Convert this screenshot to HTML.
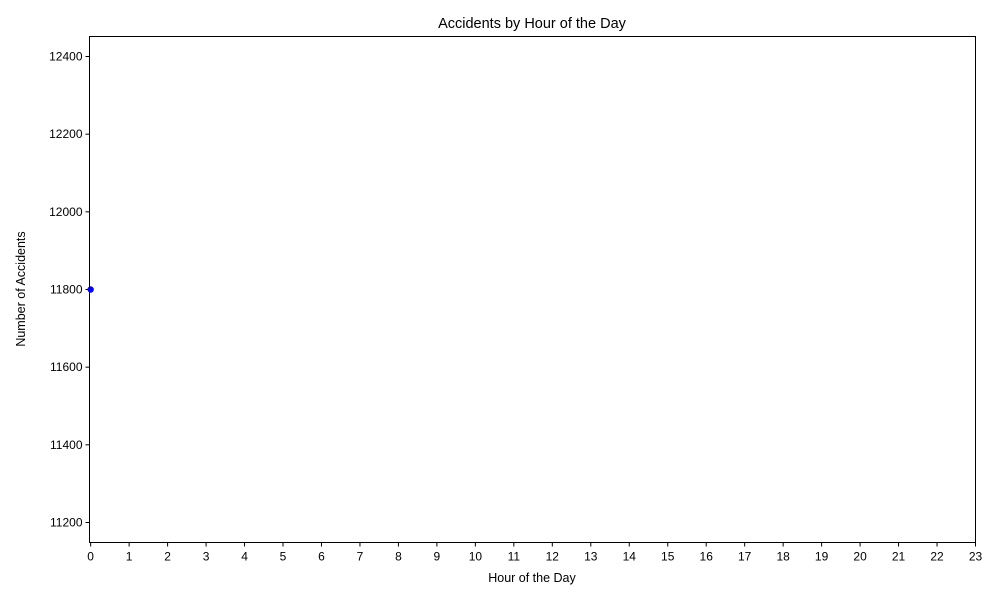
<!DOCTYPE html>
<html><head><meta charset="utf-8"><style>
body{margin:0;background:#fff;font-family:"Liberation Sans",sans-serif;}
svg text{font-family:"Liberation Sans",sans-serif;fill:#000;}
</style></head><body>
<svg width="1000" height="600" id="chart">
<text x="532" y="28" font-size="14.5" text-anchor="middle">Accidents by Hour of the Day</text>
<text x="532" y="582" font-size="12.5" text-anchor="middle">Hour of the Day</text>
<text transform="translate(25,289) rotate(-90)" font-size="12.5" text-anchor="middle">Number of Accidents</text>
<g id="xt"></g><g id="yt"></g><g id="pts"></g>
<rect x="89.5" y="36.5" width="886" height="506" fill="none" stroke="#000" stroke-width="1"/>
</svg>
<script>
const hours=[0];
const accidents=[11800];
const xTicks=[0,1,2,3,4,5,6,7,8,9,10,11,12,13,14,15,16,17,18,19,20,21,22,23];
const yTicks=[11200,11400,11600,11800,12000,12200,12400];
const L=89.5,R=975.5,T=36.5,B=542.5;
const xmin=-0.03,xmax=23,ymin=11148.5,ymax=12451.5;
const sx=v=>L+(v-xmin)/(xmax-xmin)*(R-L);
const sy=v=>B-(v-ymin)/(ymax-ymin)*(B-T);
const NS="http://www.w3.org/2000/svg";
const xt=document.getElementById('xt'),yt=document.getElementById('yt'),pts=document.getElementById('pts');
xTicks.forEach(t=>{
 const l=document.createElementNS(NS,'line');
 l.setAttribute('x1',sx(t));l.setAttribute('x2',sx(t));l.setAttribute('y1',B);l.setAttribute('y2',B+4);l.setAttribute('stroke','#000');
 
 
 xt.appendChild(l);
 const tx=document.createElementNS(NS,'text');
 tx.setAttribute('x',sx(t));tx.setAttribute('y',B+18);tx.setAttribute('font-size','12');tx.setAttribute('text-anchor','middle');tx.textContent=t;
 
 
 xt.appendChild(tx);
});
yTicks.forEach(t=>{
 const l=document.createElementNS(NS,'line');
 l.setAttribute('x1',L-4);l.setAttribute('x2',L);l.setAttribute('y1',sy(t));l.setAttribute('y2',sy(t));l.setAttribute('stroke','#000');
 
 
 yt.appendChild(l);
 const tx=document.createElementNS(NS,'text');
 tx.setAttribute('x',L-7);tx.setAttribute('y',sy(t)+4);tx.setAttribute('font-size','12');tx.setAttribute('text-anchor','end');tx.textContent=t;
 
 
 yt.appendChild(tx);
});
hours.forEach((h,i)=>{
 const c=document.createElementNS(NS,'circle');
 c.setAttribute('cx',sx(h));c.setAttribute('cy',sy(accidents[i]));c.setAttribute('r','3.2');c.setAttribute('fill','#0000ff');
 
 
 pts.appendChild(c);
});
</script>
</body></html>
